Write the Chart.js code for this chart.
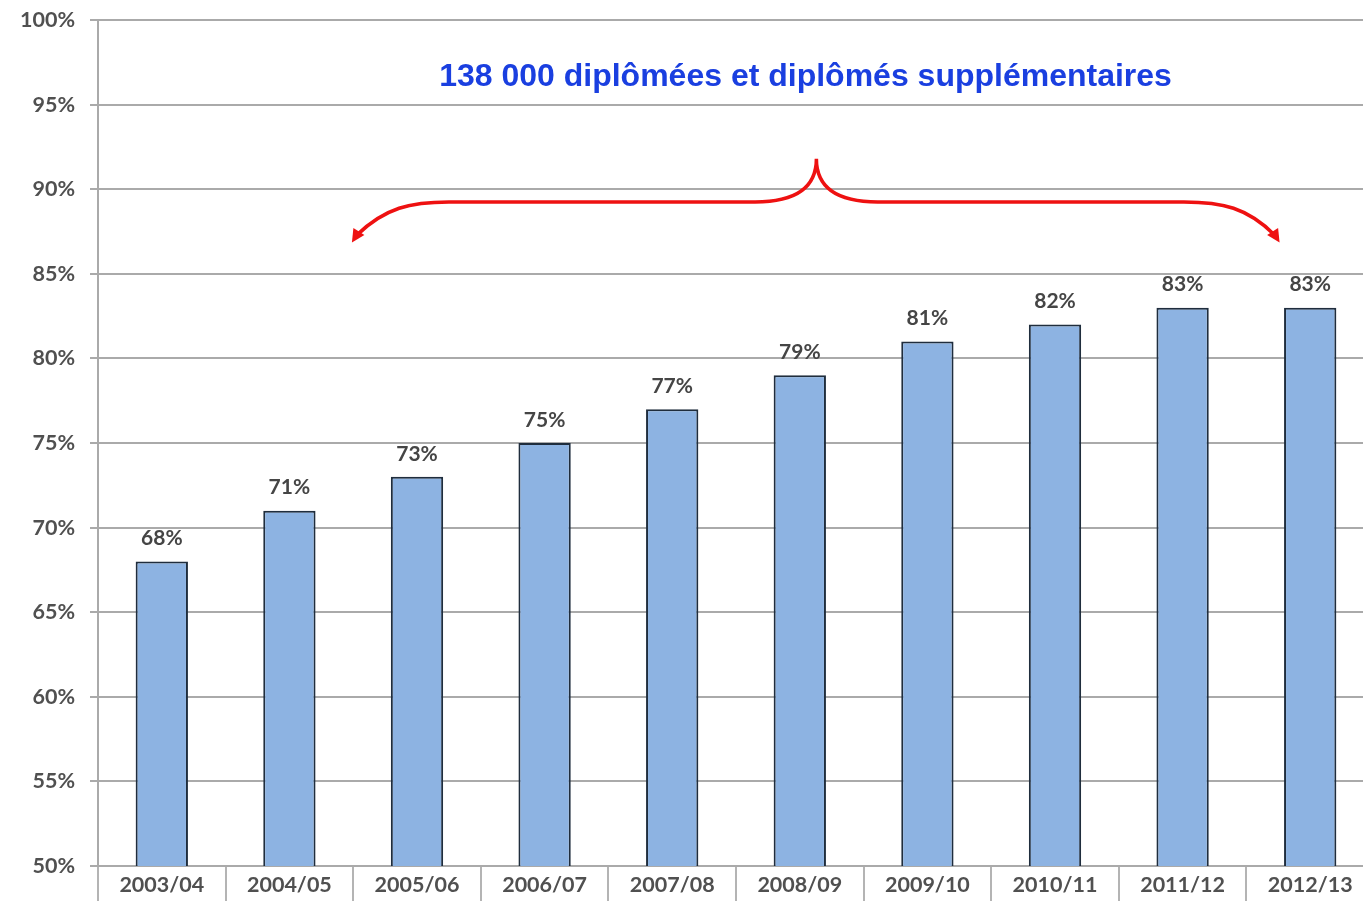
<!DOCTYPE html>
<html>
<head>
<meta charset="utf-8">
<script src="https://cdn.jsdelivr.net/npm/chart.js@4"></script>
<style>
html,body{margin:0;padding:0;background:#fff;overflow:hidden;width:1363px;height:901px;}
#wrap{position:absolute;left:0;top:0;width:1374px;height:901px;}
</style>
</head>
<body>
<div id="wrap"><canvas id="c" width="1374" height="901"></canvas></div>
<script>
const categories = ["2003/04","2004/05","2005/06","2006/07","2007/08","2008/09","2009/10","2010/11","2011/12","2012/13"];
const values = [68, 71, 73, 75, 77, 79, 81, 82, 83, 83];
const yTicks = [50, 55, 60, 65, 70, 75, 80, 85, 90, 95, 100];
const titleText = "138 000 diplômées et diplômés supplémentaires";

const FONT = "Lato, 'Open Sans', sans-serif";

const labelPlugin = {
  id: 'valueLabels',
  afterDatasetsDraw(chart) {
    const ctx = chart.ctx;
    const meta = chart.getDatasetMeta(0);
    ctx.save();
    ctx.font = "bold 21px " + FONT;
    ctx.fillStyle = "#454545";
    ctx.textAlign = "center";
    ctx.textBaseline = "middle";
    meta.data.forEach((bar, i) => {
      ctx.fillText(values[i] + "%", bar.x, bar.y - 23);
    });
    ctx.restore();
  }
};

const bracePlugin = {
  id: 'brace',
  afterDraw(chart) {
    const ctx = chart.ctx;
    const a = chart.chartArea;
    const ys = chart.scales.y;
    const cw = (a.right - a.left) / categories.length;
    const X = u => a.left + u * cw;
    const Y = v => ys.getPixelForValue(v);
    ctx.save();
    ctx.font = "bold 32px 'Liberation Sans', Arial, sans-serif";
    ctx.fillStyle = "#1a3fe0";
    ctx.textAlign = "center";
    ctx.textBaseline = "middle";
    ctx.fillText(titleText, X(5.545), Y(96.65));
    ctx.strokeStyle = "#ee1111";
    ctx.fillStyle = "#ee1111";
    ctx.lineWidth = 3.5;
    ctx.lineCap = "round";
    ctx.beginPath();
    ctx.moveTo(X(2.03), Y(87.3));
    ctx.bezierCurveTo(X(2.25), Y(88.9), X(2.45), Y(89.25), X(2.75), Y(89.25));
    ctx.lineTo(X(5.15), Y(89.25));
    ctx.bezierCurveTo(X(5.45), Y(89.25), X(5.63), Y(90.0), X(5.63), Y(91.8));
    ctx.bezierCurveTo(X(5.63), Y(90.0), X(5.81), Y(89.25), X(6.11), Y(89.25));
    ctx.lineTo(X(8.51), Y(89.25));
    ctx.bezierCurveTo(X(8.81), Y(89.25), X(9.01), Y(88.9), X(9.22), Y(87.3));
    ctx.stroke();
    function head(tx, ty, ang) {
      ctx.save();
      ctx.translate(tx, ty);
      ctx.rotate(ang);
      ctx.beginPath();
      ctx.moveTo(0, 0);
      ctx.lineTo(-13, -6.5);
      ctx.lineTo(-13, 6.5);
      ctx.closePath();
      ctx.fill();
      ctx.restore();
    }
    head(X(1.99), Y(86.85), Math.PI * 0.68);
    head(X(9.26), Y(86.85), Math.PI * 0.32);
    ctx.restore();
  }
};

new Chart(document.getElementById('c'), {
  type: 'bar',
  data: {
    labels: categories,
    datasets: [{
      data: values,
      backgroundColor: "#8db3e2",
      borderColor: "#1f2d3d",
      borderWidth: 2,
      barPercentage: 0.41,
      categoryPercentage: 1.0
    }]
  },
  options: {
    responsive: false,
    animation: false,
    layout: { padding: { top: 20, right: 0, left: 0, bottom: 0 } },
    plugins: { legend: { display: false }, tooltip: { enabled: false }, title: { display: false } },
    scales: {
      x: {
        grid: { offset: true, drawOnChartArea: false, drawTicks: true, tickLength: 36, color: "#b4b4b4", lineWidth: 2 },
        border: { display: false },
        ticks: { padding: -30, font: { family: FONT, size: 21.5, weight: 'bold' }, color: "#505050", maxRotation: 0, autoSkip: false },
        afterFit(s) { s.height = 35; s.paddingLeft = 0; s.paddingRight = 0; }
      },
      y: {
        min: 50, max: 100,
        afterBuildTicks(s) { s.ticks = yTicks.map(v => ({ value: v })); },
        grid: { color: "#aaaaaa", lineWidth: 2, tickLength: 8 },
        border: { display: true, color: "#aaaaaa", width: 2 },
        ticks: { padding: 15, font: { family: FONT, size: 21.5, weight: 'bold' }, color: "#505050", callback: v => v + "%" },
        afterFit(s) { s.width = 98; s.paddingTop = 0; s.paddingBottom = 0; }
      }
    }
  },
  plugins: [labelPlugin, bracePlugin]
});
</script>
</body>
</html>
